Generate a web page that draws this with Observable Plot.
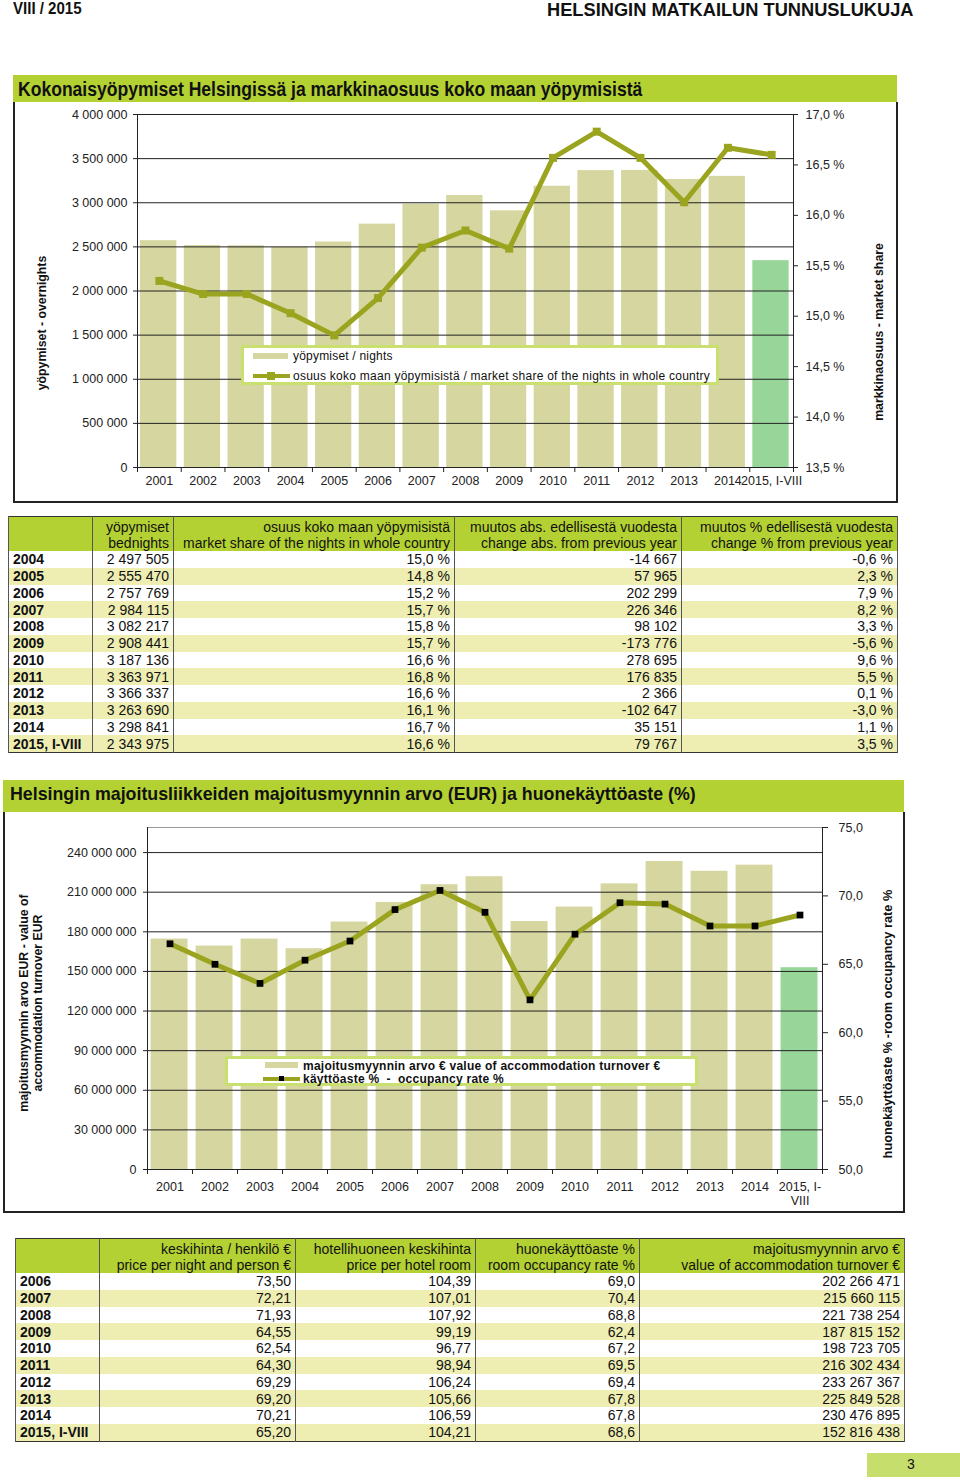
<!DOCTYPE html>
<html><head><meta charset="utf-8">
<script src="https://cdn.jsdelivr.net/npm/d3@7"></script>
<script src="https://cdn.jsdelivr.net/npm/@observablehq/plot@0.6"></script>
<style>
body{margin:0;background:#fff;font-family:"Liberation Sans",Arial,sans-serif;color:#111;}
#page{position:relative;width:960px;height:1484px;overflow:hidden;background:#fff;}
.abs{position:absolute;}
.narrow{font-family:"Liberation Sans",Arial,sans-serif;font-weight:bold;transform-origin:left top;white-space:nowrap;}
.green{background:#b4d133;}
.frame{border-left:2px solid #222;border-right:2px solid #222;border-bottom:2px solid #222;box-sizing:border-box;}
.rot{position:absolute;transform:translate(-50%,-50%) rotate(-90deg);white-space:nowrap;font-weight:bold;font-size:12.3px;text-align:center;line-height:14px;}
.legend{position:absolute;border:3px solid #c9e070;background:#fff;box-sizing:border-box;}
.lg-text{position:absolute;font-size:12px;white-space:nowrap;line-height:14px;}
table.dt{position:absolute;border-collapse:collapse;table-layout:fixed;font-size:14px;line-height:16px;border:1.5px solid #333;}
table.dt td,table.dt th{padding:0 4px;white-space:nowrap;overflow:hidden;border-left:1px solid #555;border-right:1px solid #555;}
table.dt th{background:#b4d133;font-weight:normal;text-align:right;vertical-align:bottom;height:34px;}
table.dt td{text-align:right;height:16.75px;}
table.dt td.yr{text-align:left;font-weight:bold;}
table.dt tr.s td{background:#eeeeb2;}
</style></head>
<body><div id="page">
<div class="abs narrow" style="left:13px;top:0px;font-size:16px;line-height:17px;transform:scaleX(0.94);">VIII / 2015</div>
<div class="abs narrow" style="left:547px;top:0px;font-size:19px;line-height:19px;transform:scaleX(0.96);">HELSINGIN MATKAILUN TUNNUSLUKUJA</div>

<div class="abs green" style="left:13px;top:75px;width:884px;height:27px;"></div>
<div class="abs narrow" style="left:18px;top:78px;font-size:19.5px;transform:scaleX(0.9);">Kokonaisyöpymiset Helsingissä ja markkinaosuus koko maan yöpymisistä</div>
<div class="abs frame" style="left:13px;top:102px;width:885px;height:401px;"></div>
<div id="c1" class="abs" style="left:14px;top:102px;"></div>
<div class="rot" style="left:42px;top:323px;">yöpymiset - overnights</div>
<div class="rot" style="left:879px;top:332px;">markkinaosuus - market share</div>
<div id="leg1" class="legend" style="left:241px;top:345px;width:478px;height:40px;"></div>

<div id="t1"></div>

<div class="abs green" style="left:3px;top:780px;width:901px;height:32px;"></div>
<div class="abs" style="left:10px;top:784px;font-size:17.8px;font-weight:bold;white-space:nowrap;">Helsingin majoitusliikkeiden majoitusmyynnin arvo (EUR) ja huonekäyttöaste (%)</div>
<div class="abs frame" style="left:3px;top:812px;width:902px;height:401px;"></div>
<div id="c2" class="abs" style="left:4px;top:812px;"></div>
<div class="rot" style="left:31px;top:1003px;">majoitusmyynnin arvo EUR - value of<br>accommodation turnover EUR</div>
<div class="rot" style="left:888px;top:1024px;font-size:12.8px;">huonekäyttöaste % -room occupancy rate %</div>
<div id="leg2" class="legend" style="left:225px;top:1056px;width:473px;height:30px;"></div>

<div id="t2"></div>

<div class="abs" style="left:867px;top:1453px;width:93px;height:24px;background:#c6de6c;"></div>
<div class="abs" style="left:907px;top:1456px;font-size:14px;">3</div>
</div>
<script>
// ---------- DATA ----------
const chartYears = ["2001","2002","2003","2004","2005","2006","2007","2008","2009","2010","2011","2012","2013","2014","2015, I-VIII"];
const chartYears2 = ["2001","2002","2003","2004","2005","2006","2007","2008","2009","2010","2011","2012","2013","2014","2015, I-\nVIII"];
// overnights (chart 1)
const nightsChart = [2570000, 2515000, 2512172, 2497505, 2555470, 2757769, 2984115, 3082217, 2908441, 3187136, 3363971, 3366337, 3263690, 3298841, 2343975];
// market share % (chart 1)
const shareChart = [15.35, 15.22, 15.22, 15.03, 14.81, 15.18, 15.68, 15.85, 15.67, 16.57, 16.83, 16.57, 16.13, 16.67, 16.60];
// accommodation turnover EUR (chart 2)
const turnoverChart = [174500000, 169200000, 174500000, 167200000, 187400000, 202266471, 215660115, 221738254, 187815152, 198723705, 216302434, 233267367, 225849528, 230476895, 152816438];
// room occupancy % (chart 2)
const occupancyChart = [66.5, 65.0, 63.6, 65.3, 66.7, 69.0, 70.4, 68.8, 62.4, 67.2, 69.5, 69.4, 67.8, 67.8, 68.6];

// table 1
const t1Years = ["2004","2005","2006","2007","2008","2009","2010","2011","2012","2013","2014","2015, I-VIII"];
const t1Nights = [2497505, 2555470, 2757769, 2984115, 3082217, 2908441, 3187136, 3363971, 3366337, 3263690, 3298841, 2343975];
const t1Share = [15.0, 14.8, 15.2, 15.7, 15.8, 15.7, 16.6, 16.8, 16.6, 16.1, 16.7, 16.6];
const t1ChangeAbs = [-14667, 57965, 202299, 226346, 98102, -173776, 278695, 176835, 2366, -102647, 35151, 79767];
const t1ChangePct = [-0.6, 2.3, 7.9, 8.2, 3.3, -5.6, 9.6, 5.5, 0.1, -3.0, 1.1, 3.5];
const t1Head = [["",""],["yöpymiset","bednights"],["osuus koko maan yöpymisistä","market share of the nights in whole country"],["muutos abs. edellisestä vuodesta","change abs. from previous year"],["muutos % edellisestä vuodesta","change % from previous year"]];

// table 2
const t2Years = ["2006","2007","2008","2009","2010","2011","2012","2013","2014","2015, I-VIII"];
const t2PricePerson = [73.50, 72.21, 71.93, 64.55, 62.54, 64.30, 69.29, 69.20, 70.21, 65.20];
const t2PriceRoom = [104.39, 107.01, 107.92, 99.19, 96.77, 98.94, 106.24, 105.66, 106.59, 104.21];
const t2Occupancy = [69.0, 70.4, 68.8, 62.4, 67.2, 69.5, 69.4, 67.8, 67.8, 68.6];
const t2Turnover = [202266471, 215660115, 221738254, 187815152, 198723705, 216302434, 233267367, 225849528, 230476895, 152816438];
const t2Head = [["",""],["keskihinta / henkilö €","price per night and person €"],["hotellihuoneen keskihinta","price per hotel room"],["huonekäyttöaste %","room occupancy rate %"],["majoitusmyynnin arvo €","value of accommodation turnover €"]];

// ---------- FORMAT ----------
const loc = d3.formatLocale({decimal: ",", thousands: " ", grouping: [3], currency: ["", ""], minus: "-"});
const fInt = loc.format(",d");
const f1 = loc.format(".1f");
const f2 = loc.format(".2f");

const KHAKI = "#d5d6a0", GREEN = "#98d599", OLIVE = "#9ba41f";
const style = {fontFamily: "'Liberation Sans', Arial, sans-serif", fontSize: "12.5px", color: "#222", background: "transparent", overflow: "visible"};

// ---------- CHART 1 ----------
const Y1MAX = 4000000, S_MIN = 13.5, S_MAX = 17.0;
const s2y = s => (s - S_MIN) / (S_MAX - S_MIN) * Y1MAX;
const rows1 = chartYears.map((label, i) => ({i, label, nights: nightsChart[i], share: shareChart[i], partial: i === chartYears.length - 1}));
const plot1 = Plot.plot({
  width: 883, height: 400, marginLeft: 123, marginRight: 104, marginTop: 12, marginBottom: 35,
  x: {domain: [0, chartYears.length], axis: null, label: null},
  y: {domain: [0, Y1MAX], axis: null, label: null},
  style,
  marks: [
    Plot.rectY(rows1, {x1: d => d.i + 0.07, x2: d => d.i + 0.9, y: "nights", fill: d => d.partial ? GREEN : KHAKI}),
    Plot.ruleY(d3.range(500000, Y1MAX + 1, 500000), {stroke: "#222", strokeWidth: 1}),
    Plot.ruleX([0, chartYears.length], {stroke: "#222"}),
    Plot.ruleY([0], {stroke: "#222"}),
    Plot.line(rows1, {x: d => d.i + 0.5, y: d => s2y(d.share), stroke: OLIVE, strokeWidth: 5}),
    Plot.dot(rows1, {x: d => d.i + 0.5, y: d => s2y(d.share), symbol: "square", r: 4.5, fill: OLIVE}),
    Plot.axisY({anchor: "left", ticks: d3.range(0, Y1MAX + 1, 500000), tickFormat: fInt, tickSize: 4, tickPadding: 6}),
    Plot.axisY({anchor: "right", ticks: d3.range(0, 8).map(k => s2y(S_MIN + k * 0.5)), tickFormat: v => f1(S_MIN + v / Y1MAX * (S_MAX - S_MIN)) + " %", tickSize: 4, tickPadding: 8}),
    Plot.axisX({ticks: d3.range(0, chartYears.length + 1), tickFormat: () => "", tickSize: 5}),
    Plot.axisX({ticks: d3.range(0, chartYears.length).map(i => i + 0.5), tickFormat: v => chartYears[Math.floor(v)], tickSize: 0, tickPadding: 9})
  ]
});
document.getElementById("c1").appendChild(plot1);

// ---------- CHART 2 ----------
const Y2MAX = 259000000, O_MIN = 50, O_MAX = 75;
const o2y = o => (o - O_MIN) / (O_MAX - O_MIN) * Y2MAX;
const rows2 = chartYears2.map((label, i) => ({i, label, turnover: turnoverChart[i], occ: occupancyChart[i], partial: i === chartYears2.length - 1}));
const plot2 = Plot.plot({
  width: 900, height: 400, marginLeft: 143, marginRight: 82, marginTop: 15, marginBottom: 43,
  x: {domain: [0, chartYears2.length], axis: null, label: null},
  y: {domain: [0, Y2MAX], axis: null, label: null},
  style,
  marks: [
    Plot.rectY(rows2, {x1: d => d.i + 0.08, x2: d => d.i + 0.9, y: "turnover", fill: d => d.partial ? GREEN : KHAKI}),
    Plot.ruleY(d3.range(30000000, 240000001, 30000000), {stroke: "#222", strokeWidth: 1}),
    Plot.ruleY([Y2MAX], {stroke: "#999", strokeWidth: 1}),
    Plot.ruleX([0, chartYears2.length], {stroke: "#222"}),
    Plot.ruleY([0], {stroke: "#222"}),
    Plot.line(rows2, {x: d => d.i + 0.5, y: d => o2y(d.occ), stroke: OLIVE, strokeWidth: 5}),
    Plot.dot(rows2, {x: d => d.i + 0.5, y: d => o2y(d.occ), symbol: "square", r: 3.8, fill: "#000"}),
    Plot.axisY({anchor: "left", ticks: d3.range(0, 240000001, 30000000), tickFormat: fInt, tickSize: 4, tickPadding: 7}),
    Plot.axisY({anchor: "right", ticks: d3.range(0, 6).map(k => o2y(O_MIN + k * 5)), tickFormat: v => f1(O_MIN + v / Y2MAX * (O_MAX - O_MIN)), tickSize: 5, tickPadding: 11}),
    Plot.axisX({ticks: d3.range(0, chartYears2.length + 1), tickFormat: () => "", tickSize: 5}),
    Plot.axisX({ticks: d3.range(0, chartYears2.length).map(i => i + 0.5), tickFormat: v => chartYears2[Math.floor(v)], tickSize: 0, tickPadding: 11, lineHeight: 1.15})
  ]
});
document.getElementById("c2").appendChild(plot2);

// ---------- LEGENDS ----------
document.getElementById("leg1").innerHTML =
  `<div class="abs" style="left:9px;top:5px;width:35px;height:6px;background:${KHAKI}"></div>
   <div class="lg-text" style="left:49px;top:1px;letter-spacing:0.2px;">yöpymiset / nights</div>
   <div class="abs" style="left:9px;top:26px;width:37px;height:4px;background:${OLIVE}"></div>
   <div class="abs" style="left:23px;top:24px;width:8px;height:8px;background:${OLIVE}"></div>
   <div class="lg-text" style="left:49px;top:21px;letter-spacing:0.25px;">osuus koko maan yöpymisistä / market share of the nights in whole country</div>`;
document.getElementById("leg2").innerHTML =
  `<div class="abs" style="left:37px;top:3px;width:33px;height:6px;background:${KHAKI}"></div>
   <div class="lg-text" style="left:75px;top:0px;font-weight:bold;letter-spacing:0.25px;">majoitusmyynnin arvo € value of accommodation turnover €</div>
   <div class="abs" style="left:35px;top:18px;width:37px;height:4px;background:${OLIVE}"></div>
   <div class="abs" style="left:51px;top:17px;width:5px;height:5px;background:#000"></div>
   <div class="lg-text" style="left:75px;top:13px;font-weight:bold;letter-spacing:0.25px;">käyttöaste %&nbsp; -&nbsp; occupancy rate %</div>`;

// ---------- TABLES ----------
function buildTable(id, left, top, widths, head, rows) {
  let h = `<table class="dt" style="left:${left}px;top:${top}px;width:${d3.sum(widths)}px;"><colgroup>` +
    widths.map(w => `<col style="width:${w}px">`).join("") + `</colgroup><tr>` +
    head.map(c => `<th>${c[0]}<br>${c[1]}</th>`).join("") + `</tr>`;
  rows.forEach((r, k) => {
    h += `<tr class="${k % 2 ? "s" : ""}">` + r.map((c, j) => `<td class="${j === 0 ? "yr" : ""}">${c}</td>`).join("") + `</tr>`;
  });
  h += `</table>`;
  document.getElementById(id).outerHTML = h;
}
buildTable("t1", 8, 516, [84, 81, 281, 227, 216], t1Head,
  t1Years.map((y, k) => [y, fInt(t1Nights[k]), f1(t1Share[k]) + " %", fInt(t1ChangeAbs[k]), f1(t1ChangePct[k]) + " %"]));
buildTable("t2", 15, 1238, [84, 196, 180, 164, 265], t2Head,
  t2Years.map((y, k) => [y, f2(t2PricePerson[k]), f2(t2PriceRoom[k]), f1(t2Occupancy[k]), fInt(t2Turnover[k])]));
</script>
</body></html>
